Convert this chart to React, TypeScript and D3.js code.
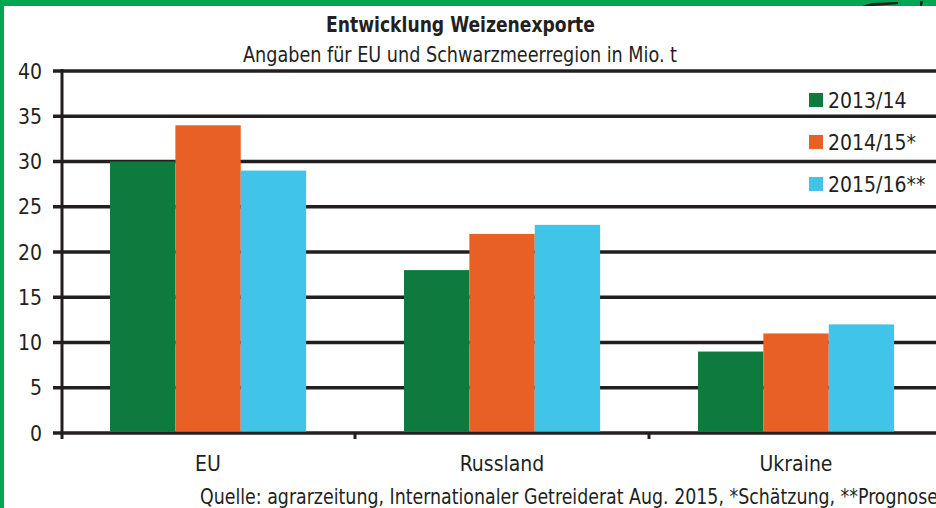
import React from "react";
import * as d3 from "d3";

const regionen = ["EU", "Russland", "Ukraine"];
const jahre = ["2013/14", "2014/15*", "2015/16**"];
const werte2013 = [30, 18, 9];
const werte2014 = [34, 22, 11];
const werte2015 = [29, 23, 12];
const farben = ["#0e7a3e", "#e86026", "#40c4e8"];
const yTicks = [0, 5, 10, 15, 20, 25, 30, 35, 40];

const W = 936;
const H = 508;
const font = "'Liberation Sans Narrow', 'DejaVu Sans Condensed', 'Roboto Condensed', sans-serif";
const ink = "#231f20";

export default function App() {
    const serien = [werte2013, werte2014, werte2015];

    // Skalen
    const x = d3.scaleBand().domain(regionen).range([61, 943]).paddingInner(0).paddingOuter(0);
    const yScale = d3.scaleLinear().domain([0, 40]).range([433, 71]);
    const inner = d3.scaleBand().domain(jahre).range([0, x.bandwidth() * 0.667]);
    const off = x.bandwidth() * 0.1667;

    return (
        <svg width={W} height={H} style={{position: "absolute", left: 0, top: 0, background: "white"}}>
            {/* Rahmen */}
            <rect x={0} y={0} width={W} height={6} fill="#00a651" />
            <rect x={0} y={0} width={4} height={H} fill="#00a651" />
            <path d="M862,6 L872,3 L898,2 L898,4 L874,6 Z M920,1 L923,1 L922,6 L920,6 Z" fill={ink} />

            {/* Gitterlinien */}
            {yTicks.map(t => (
                <g key={t}>
                    <line x1={53} x2={W} y1={yScale(t)} y2={yScale(t)} stroke={ink} strokeWidth={3.5} />
                    <text x={42} y={yScale(t)} dy="0.36em" textAnchor="end" fontFamily={font} fontSize={21} fill={ink}>{t}</text>
                </g>
            ))}
            <line x1={62} x2={62} y1={69} y2={439} stroke={ink} strokeWidth={3} />
            {regionen.map((r, i) => i > 0 ? (
                <line key={r} x1={x(r)} x2={x(r)} y1={433} y2={439} stroke={ink} strokeWidth={3} />
            ) : null)}

            {/* Balken */}
            {regionen.map((r, i) => (
                <g key={r}>
                    {serien.map((s, j) => (
                        <rect key={j} x={(x(r) as number) + off + (inner(jahre[j]) as number)} y={yScale(s[i])}
                              width={inner.bandwidth()} height={yScale(0) - yScale(s[i]) - 1.5} fill={farben[j]} />
                    ))}
                    <text x={(x(r) as number) + x.bandwidth() / 2} y={471} textAnchor="middle" fontFamily={font} fontSize={21} fill={ink}>{r}</text>
                </g>
            ))}

            {/* Legende */}
            {jahre.map((j, i) => (
                <g key={j} transform={`translate(809, ${93 + i * 42})`}>
                    <rect x={0} y={0} width={14} height={14} fill={farben[i]} />
                    <text x={19} y={7} dy="0.36em" fontFamily={font} fontSize={21} fill={ink}>{j}</text>
                </g>
            ))}

            {/* Titel */}
            <text x={326} y={32} textLength={269} lengthAdjust="spacingAndGlyphs" fontFamily={font} fontSize={21} fontWeight="bold" fill={ink}>Entwicklung Weizenexporte</text>
            <text x={243} y={62} textLength={434} lengthAdjust="spacingAndGlyphs" fontFamily={font} fontSize={22} fill={ink}>Angaben für EU und Schwarzmeerregion in Mio. t</text>
            <text x={200} y={504} textLength={738} lengthAdjust="spacingAndGlyphs" fontFamily={font} fontSize={21} fill={ink}>Quelle: agrarzeitung, Internationaler Getreiderat Aug. 2015, *Schätzung, **Prognose</text>
        </svg>
    );
}
